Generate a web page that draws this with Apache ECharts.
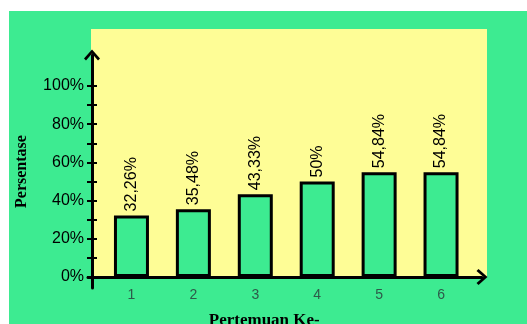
<!DOCTYPE html>
<html>
<head>
<meta charset="utf-8">
<script src="https://cdn.jsdelivr.net/npm/echarts@6/dist/echarts.min.js"></script>
<style>
  html, body { margin: 0; padding: 0; background: #fff; }
  #chart { width: 527px; height: 324px; }
</style>
</head>
<body>
<div id="chart"></div>
<script>
var categories = ['1', '2', '3', '4', '5', '6'];
var values = [32.26, 35.48, 43.33, 50, 54.84, 54.84];
var valueLabels = ['32,26%', '35,48%', '43,33%', '50%', '54,84%', '54,84%'];

var green = '#3DEB91';
var chartDom = document.getElementById('chart');
var c = echarts.init(chartDom);

// open chevron used as axis arrow head
var arrowPath = 'path://M8,0 L16,9 L14,11 L8,4 L2,11 L0,9 Z';

var option = {
  backgroundColor: '#fff',
  animation: false,
  graphic: [
    { type: 'rect', z: -10, shape: { x: 9, y: 11, width: 518, height: 313 }, style: { fill: green } }
  ],
  grid: [
    { left: 91, top: 29, right: 40, bottom: 47, show: true, backgroundColor: '#FEFD96', borderWidth: 0, outerBoundsMode: 'none' },
    { left: 88, top: 55, right: 45, bottom: 36, outerBoundsMode: 'none' },
    { left: 100.5, top: 86, right: 55, bottom: 47, outerBoundsMode: 'none' }
  ],
  xAxis: [
    { gridIndex: 0, type: 'value', show: false },
    {
      gridIndex: 1, type: 'value', min: 0, max: 1, offset: -11, position: 'bottom',
      axisLine: { show: true, lineStyle: { color: '#000', width: 3 }, symbol: ['none', arrowPath], symbolSize: [16, 11] },
      axisTick: { show: false }, axisLabel: { show: false }, splitLine: { show: false }
    },
    {
      gridIndex: 2, type: 'category', data: categories, position: 'bottom',
      axisLine: { show: false }, axisTick: { show: false },
      axisLabel: { color: '#2E5A4A', fontSize: 14, fontFamily: 'Liberation Sans', margin: 11 },
      name: 'Pertemuan Ke-', nameLocation: 'middle', nameGap: 35,
      nameTextStyle: { fontFamily: 'Liberation Serif', fontWeight: 'bold', fontSize: 17, color: '#000', padding: [0, 44, 0, 0] }
    }
  ],
  yAxis: [
    { gridIndex: 0, type: 'value', show: false },
    {
      gridIndex: 1, type: 'value', min: 0, max: 1, offset: -4, position: 'left',
      axisLine: { show: true, lineStyle: { color: '#000', width: 3 }, symbol: ['none', arrowPath], symbolSize: [16, 11] },
      axisTick: { show: false }, axisLabel: { show: false }, splitLine: { show: false },
      name: 'Persentase', nameLocation: 'middle', nameGap: 62,
      nameTextStyle: { fontFamily: 'Liberation Serif', fontWeight: 'bold', fontSize: 16, color: '#000' }
    },
    {
      gridIndex: 2, type: 'value', min: 0, max: 100, interval: 10, offset: 8.5, position: 'left',
      axisLine: { show: false },
      axisTick: { show: true, length: 5, lineStyle: { color: '#000', width: 2 } },
      axisLabel: {
        color: '#000', fontSize: 16, fontFamily: 'Liberation Sans', margin: 8,
        formatter: function (v) { return v % 20 === 0 ? v + '%' : ''; }
      },
      splitLine: { show: false }
    },
    {
      gridIndex: 2, type: 'value', min: 0, max: 100, interval: 10, offset: 8.5, position: 'left',
      axisLine: { show: false },
      axisTick: { show: true, inside: true, length: 5, lineStyle: { color: '#000', width: 2 } },
      axisLabel: { show: false }, splitLine: { show: false }
    }
  ],
  series: [
    {
      type: 'bar', xAxisIndex: 2, yAxisIndex: 2,
      data: values, barWidth: 35,
      itemStyle: { color: green, borderColor: '#000', borderWidth: 3 },
      label: {
        show: true, position: 'top', rotate: 90, align: 'left', verticalAlign: 'middle',
        distance: 4, color: '#000', fontSize: 16, fontFamily: 'Liberation Sans',
        formatter: function (p) { return valueLabels[p.dataIndex]; }
      }
    }
  ]
};

c.setOption(option);
</script>
</body>
</html>
